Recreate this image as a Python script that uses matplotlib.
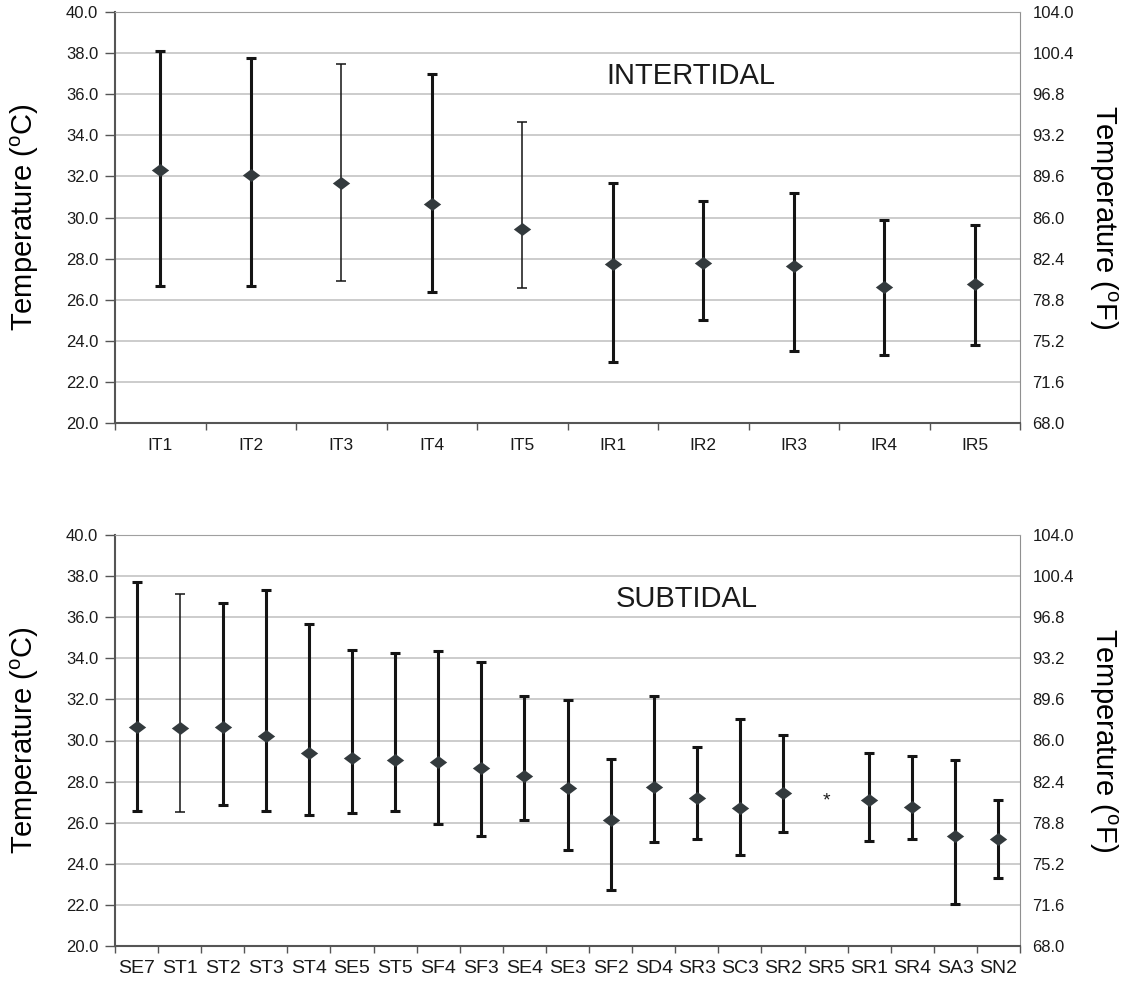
import matplotlib.pyplot as plt
import numpy as np

plt.rcParams['font.family'] = ['Liberation Sans', 'DejaVu Sans']
plt.rcParams['mathtext.fontset'] = 'custom'
plt.rcParams['mathtext.rm'] = 'Liberation Sans'

# intertidal sites
inter_sites = ['IT1', 'IT2', 'IT3', 'IT4', 'IT5', 'IR1', 'IR2', 'IR3', 'IR4', 'IR5']
inter_mean = [32.3, 32.06, 31.7, 30.66, 29.43, 27.76, 27.81, 27.66, 26.62, 26.75]
inter_max = [38.1, 37.74, 37.45, 37.0, 34.66, 31.66, 30.81, 31.2, 29.88, 29.64]
inter_min = [26.65, 26.65, 26.93, 26.36, 26.59, 22.97, 25.03, 23.52, 23.33, 23.8]
inter_thin = ['IT3', 'IT5']

# subtidal sites (SR5 has no data, marked with *)
sub_sites = ['SE7', 'ST1', 'ST2', 'ST3', 'ST4', 'SE5', 'ST5', 'SF4', 'SF3', 'SE4', 'SE3',
             'SF2', 'SD4', 'SR3', 'SC3', 'SR2', 'SR5', 'SR1', 'SR4', 'SA3', 'SN2']
sub_mean = [30.64, 30.61, 30.64, 30.24, 29.38, 29.13, 29.05, 28.94, 28.68, 28.29, 27.71,
            26.15, 27.72, 27.2, 26.73, 27.46, np.nan, 27.09, 26.78, 25.34, 25.21]
sub_max = [37.71, 37.15, 36.71, 37.32, 35.67, 34.42, 34.26, 34.34, 33.82, 32.18, 31.97,
           29.1, 32.18, 29.68, 31.05, 30.25, np.nan, 29.41, 29.26, 29.05, 27.1]
sub_min = [26.59, 26.54, 26.88, 26.59, 26.39, 26.49, 26.59, 25.96, 25.37, 26.12, 24.69,
           22.74, 25.06, 25.23, 24.43, 25.57, np.nan, 25.13, 25.23, 22.04, 23.33]
sub_thin = ['ST1']
missing_site = 'SR5'
missing_y = 27.05

c_ticks = np.arange(20, 40.1, 2)
f_ticks = c_ticks * 9 / 5 + 32

fig = plt.figure(figsize=(11.23, 9.82), dpi=100)
W, H = 1123, 982


def panel(rect, sites, mean, vmax, vmin, thin, title, title_pos, xfs, xpad):
    ax = fig.add_axes(rect)
    x = np.arange(len(sites))
    mean = np.array(mean)
    vmax = np.array(vmax)
    vmin = np.array(vmin)
    for i, s in enumerate(sites):
        if np.isnan(mean[i]):
            continue
        lw = 1.1 if s in thin else 2.2
        ax.errorbar(x[i], mean[i], yerr=[[mean[i] - vmin[i]], [vmax[i] - mean[i]]],
                    fmt='none', ecolor='#141414', elinewidth=lw, capsize=3.5,
                    capthick=lw, zorder=3)
    ax.plot(x, mean, linestyle='none', marker=[(-1, 0), (0, 0.75), (1, 0), (0, -0.75), (-1, 0)],
            markersize=12.5, color='#333a3d', markeredgewidth=0, zorder=4)
    ax.set_xlim(-0.5, len(sites) - 0.5)
    ax.set_ylim(20, 40)
    ax.set_yticks(c_ticks)
    ax.set_yticklabels(['%.1f' % v for v in c_ticks], fontsize=12, color='#1a1a1a')
    ax.set_xticks(x)
    ax.set_xticklabels(sites, fontsize=xfs, color='#1a1a1a')
    ax.set_xticks(np.arange(len(sites) + 1) - 0.5, minor=True)
    ax.tick_params(axis='x', which='major', length=0, pad=xpad)
    ax.tick_params(axis='x', which='minor', length=5, width=1, color='#555555')
    ax.tick_params(axis='y', length=7, width=1, color='#555555', pad=5)
    ax.grid(axis='y', color='#c8c8c8', linewidth=1.3)
    ax.set_axisbelow(True)
    ax.spines['left'].set_color('#555555')
    ax.spines['left'].set_linewidth(1.5)
    ax.spines['bottom'].set_color('#555555')
    ax.spines['bottom'].set_linewidth(1.5)
    ax.spines['top'].set_color('#a0a0a0')
    ax.spines['right'].set_color('#909090')
    ax.set_ylabel(r'Temperature ($^{\mathrm{o}}$C)', fontsize=21, va='center')
    ax.yaxis.set_label_coords(-0.1, 0.5)
    ax.text(title_pos[0], title_pos[1], title, transform=ax.transAxes, fontsize=21,
            ha='center', va='center', color='#1a1a1a')

    ax2 = ax.twinx()
    ax2.set_ylim(20 * 9 / 5 + 32, 40 * 9 / 5 + 32)
    ax2.set_yticks(f_ticks)
    ax2.set_yticklabels(['%.1f' % v for v in f_ticks], fontsize=12, color='#1a1a1a')
    ax2.tick_params(axis='y', length=0, pad=9)
    for sp in ax2.spines.values():
        sp.set_visible(False)
    ax2.set_ylabel(r'Temperature ($^{\mathrm{o}}$F)', fontsize=21, rotation=270, va='center')
    ax2.yaxis.set_label_coords(1.092, 0.5)
    return ax


panel([115 / W, 1 - 423 / H, 905 / W, 411 / H], inter_sites, inter_mean, inter_max,
      inter_min, inter_thin, 'INTERTIDAL', (0.636, 0.845), 12.5, 11)
ax_sub = panel([115 / W, 1 - 946 / H, 905 / W, 411 / H], sub_sites, sub_mean, sub_max,
               sub_min, sub_thin, 'SUBTIDAL', (0.632, 0.845), 14, 10)
ax_sub.text(sub_sites.index(missing_site), missing_y, '*', fontsize=14, ha='center',
            va='center', color='#1a1a1a')

fig.savefig('out.png', dpi=100)
